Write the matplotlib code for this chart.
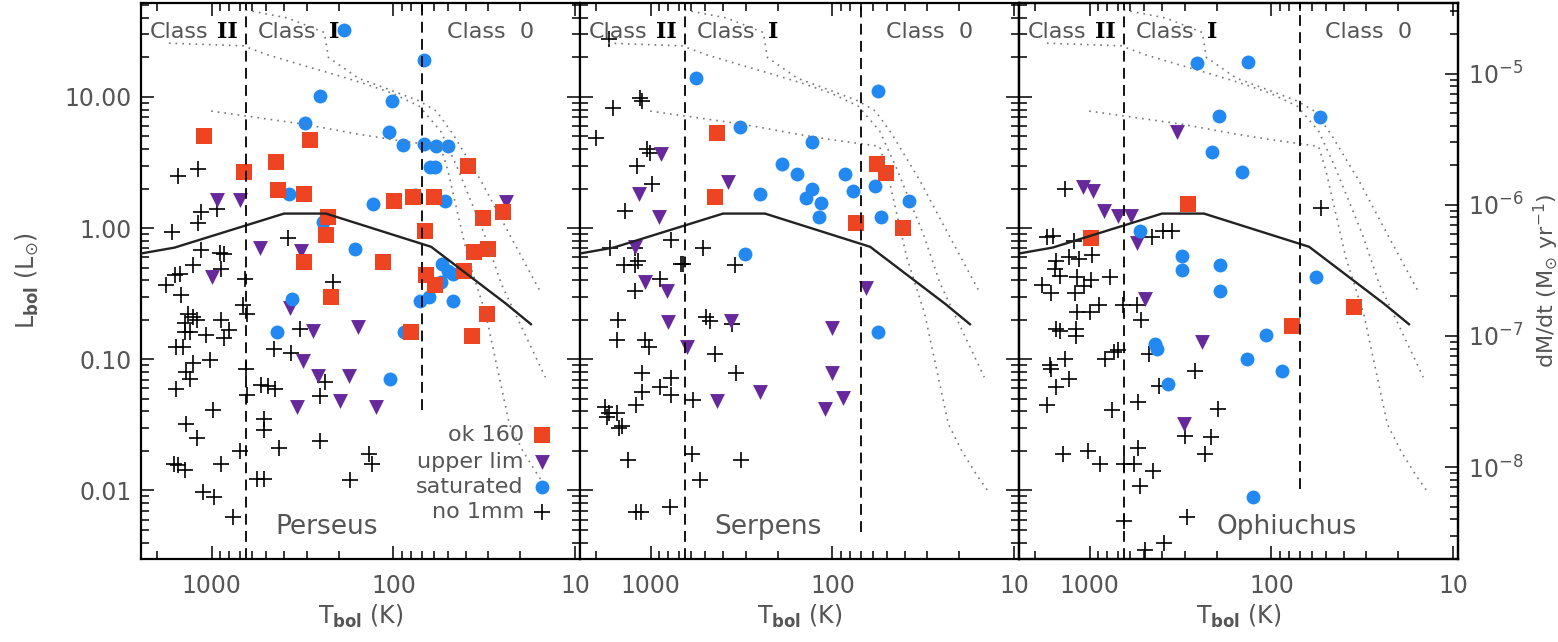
import numpy as np
import matplotlib.pyplot as plt
from matplotlib.ticker import FixedLocator, FuncFormatter, LogLocator, NullFormatter

# ---- data: (Tbol [K], Lbol [Lsun]) ----
perseus_ok = [(1100, 5.0), (287, 4.7), (665, 2.7), (440, 3.2), (39, 3.0), (434, 1.95),
              (312, 1.81), (99, 1.62), (78, 1.72), (60, 1.73), (32, 1.2), (25, 1.32),
              (228, 1.22), (67, 0.95), (236, 0.88), (114, 0.55), (311, 0.55), (66, 0.44),
              (59, 0.37), (36, 0.66), (30, 0.69), (41, 0.47), (220, 0.30), (30.5, 0.22),
              (80, 0.16), (37, 0.15)]
perseus_up = [(930, 1.63), (698, 1.63), (24, 1.57), (543, 0.71), (321, 0.67), (998, 0.42),
              (371, 0.245), (278, 0.163), (156, 0.175), (313, 0.097), (261, 0.074),
              (175, 0.075), (341, 0.043), (197, 0.048), (125, 0.043)]
perseus_sat = [(188, 32.5), (68, 19.2), (254, 10.1), (102, 9.3), (307, 6.3), (106, 5.4),
               (89, 4.3), (68, 4.4), (58, 4.2), (50, 4.2), (63, 2.9), (59, 2.9), (375, 1.81),
               (130, 1.53), (76, 1.8), (52, 1.6), (243, 1.12), (163, 0.69), (54, 0.53),
               (50, 0.47), (47, 0.45), (55, 0.39), (71, 0.28), (64, 0.30), (47, 0.28),
               (360, 0.29), (436, 0.16), (87, 0.16), (105, 0.071)]
perseus_no = [(1532, 2.5), (1190, 2.82), (1648, 0.93), (1150, 1.32), (1185, 1.1), (935, 1.39),
              (380, 0.84), (1150, 0.68), (904, 0.65), (851, 0.64), (1264, 0.52), (1500, 0.45),
              (1585, 0.44), (889, 0.49), (659, 0.41), (1781, 0.37), (215, 0.39), (1470, 0.31),
              (673, 0.26), (641, 0.22), (1349, 0.22), (1274, 0.21), (1211, 0.20), (1407, 0.19),
              (889, 0.20), (805, 0.166), (1309, 0.16), (1407, 0.16), (1074, 0.152),
              (859, 0.144), (327, 0.171), (1566, 0.123), (1439, 0.123), (452, 0.119),
              (367, 0.112), (1264, 0.093), (1378, 0.080), (1319, 0.071), (1020, 0.099),
              (1566, 0.059), (650, 0.084), (536, 0.064), (492, 0.062), (448, 0.059),
              (239, 0.067), (253, 0.052), (636, 0.053), (986, 0.041), (1390, 0.032),
              (514, 0.035), (516, 0.029), (1200, 0.025), (425, 0.021), (695, 0.020),
              (255, 0.024), (136, 0.019), (132, 0.016), (1615, 0.016), (1542, 0.0155),
              (1408, 0.0142), (891, 0.016), (565, 0.0123), (516, 0.0123), (173, 0.012),
              (1121, 0.0097), (977, 0.0089), (760, 0.0063)]

serpens_ok = [(431, 5.3), (440, 1.73), (57, 3.1), (51, 2.65), (74, 1.1), (41, 1.01)]
serpens_up = [(874, 3.7), (1159, 1.83), (374, 2.25), (897, 1.22), (1222, 0.72), (1074, 0.39),
              (813, 0.33), (65, 0.35), (801, 0.193), (362, 0.195), (101, 0.174), (631, 0.123),
              (100, 0.079), (250, 0.056), (430, 0.048), (87, 0.051), (110, 0.042)]
serpens_sat = [(560, 13.9), (56, 11.0), (323, 5.9), (130, 4.5), (189, 3.1), (156, 2.6),
               (85, 2.6), (58, 2.1), (129, 2.0), (77, 1.92), (250, 1.83), (140, 1.71),
               (116, 1.54), (38, 1.61), (119, 1.22), (54, 1.22), (303, 0.63), (56, 0.16)]
serpens_no = [(1706, 27.7), (1146, 9.8), (1122, 9.3), (1614, 8.2), (2000, 4.9), (1052, 4.0),
              (1007, 3.76), (1195, 2.97), (986, 2.16), (1378, 1.34), (1681, 0.71),
              (1222, 0.71), (778, 0.81), (513, 0.70), (1400, 0.52), (1222, 0.52), (1170, 0.56),
              (344, 0.52), (684, 0.53), (664, 0.53), (885, 0.41), (1222, 0.33), (1514, 0.20),
              (497, 0.21), (471, 0.195), (1531, 0.14), (1075, 0.14), (1021, 0.123),
              (359, 0.185), (444, 0.110), (341, 0.079), (1112, 0.078), (774, 0.072),
              (891, 0.061), (1112, 0.056), (774, 0.053), (588, 0.049), (1211, 0.045),
              (1778, 0.043), (1703, 0.039), (1531, 0.039), (1741, 0.036), (1500, 0.030),
              (1437, 0.031), (1331, 0.017), (591, 0.019), (319, 0.017), (538, 0.012),
              (1211, 0.0068), (1136, 0.0068), (784, 0.0075)]

ophiuchus_ok = [(288, 1.52), (979, 0.84), (35, 0.25), (77, 0.18)]
ophiuchus_up = [(331, 5.4), (1089, 2.06), (957, 1.92), (832, 1.36), (697, 1.24), (596, 1.24),
                (552, 0.77), (499, 0.29), (240, 0.135), (302, 0.032)]
ophiuchus_sat = [(258, 18.1), (134, 18.5), (194, 7.2), (54, 7.0), (211, 3.8), (146, 2.7),
                 (527, 0.95), (309, 0.61), (309, 0.48), (191, 0.52), (191, 0.33), (56.5, 0.42),
                 (437, 0.13), (428, 0.12), (372, 0.065), (137, 0.101), (107, 0.152),
                 (88, 0.082), (126, 0.0089)]
ophiuchus_no = [(1374, 2.0), (53.5, 1.42), (1710, 0.86), (1596, 0.875), (1219, 0.80),
                (454, 0.85), (395, 0.95), (351, 0.95), (1524, 0.565), (1294, 0.60),
                (1151, 0.58), (966, 0.62), (1560, 0.49), (1455, 0.43), (1180, 0.42),
                (979, 0.40), (777, 0.42), (1837, 0.37), (1634, 0.32), (1208, 0.32),
                (1074, 0.36), (1180, 0.23), (1002, 0.23), (892, 0.26), (659, 0.257),
                (547, 0.257), (523, 0.20), (1535, 0.17), (1466, 0.165), (1191, 0.17),
                (1191, 0.15), (1368, 0.101), (1644, 0.090), (1630, 0.085), (824, 0.10),
                (735, 0.114), (701, 0.117), (470, 0.110), (1294, 0.071), (263, 0.082),
                (1535, 0.061), (413, 0.062), (1722, 0.045), (752, 0.041), (545, 0.047),
                (198, 0.042), (299, 0.026), (215, 0.0255), (1400, 0.019), (1028, 0.020),
                (883, 0.016), (649, 0.016), (570, 0.016), (540, 0.021), (232, 0.019),
                (449, 0.014), (532, 0.0109), (292, 0.0063), (649, 0.0058), (497, 0.0035),
                (391, 0.004)]

# model curve and evolutionary tracks (same in every panel)
model_T = [2450, 1600, 400, 235, 62, 24, 17.5]
model_L = [0.64, 0.71, 1.29, 1.29, 0.72, 0.265, 0.185]
track_a_T = [650, 383, 240, 228, 156, 106, 72, 58, 47, 33, 22, 15.3]
track_a_L = [46, 40, 31, 20, 13.9, 11.4, 9.3, 7.8, 5.2, 2.3, 0.8, 0.315]
track_b_T = [1720, 670, 496, 323, 210, 149, 102, 72, 55, 45, 31.6, 25.5, 19.7, 14.6]
track_b_L = [25.7, 24.5, 21, 17.6, 14.8, 12.8, 10.7, 8.5, 5.5, 3.0, 0.9, 0.376, 0.176, 0.073]
track_c_T = [1007, 312, 156, 99, 70, 55, 50, 39, 31, 27, 23, 19.4, 16, 14]
track_c_L = [7.8, 6.2, 5.2, 4.7, 4.4, 4.2, 2.7, 0.6, 0.22, 0.09, 0.032, 0.02, 0.013, 0.01]

regions = ['Perseus', 'Serpens', 'Ophiuchus']
region_pos = [0.306, 0.305, 0.451]
class0_line_bottom = [0.041, 0.0048, 0.0102]
panel_data = [(perseus_ok, perseus_up, perseus_sat, perseus_no),
              (serpens_ok, serpens_up, serpens_sat, serpens_no),
              (ophiuchus_ok, ophiuchus_up, ophiuchus_sat, ophiuchus_no)]

legend_labels = ['ok 160', 'upper lim', 'saturated', 'no 1mm']

GRAY = '#555555'
RED = '#EE4422'
BLUE = '#2288F2'
PURPLE = '#66289A'
TMAX, TMIN = 2450, 9.4
LMIN, LMAX = 0.003, 52
T_II, T_0 = 650, 70
MDOT_PER_L = 6.64e-7

styles = [dict(marker='s', s=140, color=RED, linewidths=0),
          dict(marker='v', s=115, color=PURPLE, linewidths=0),
          dict(marker='o', s=100, color=BLUE, linewidths=0),
          dict(marker='+', s=125, color='black', linewidths=1.2)]

W, H = 1558, 642
fig = plt.figure(figsize=(W / 100, H / 100), dpi=100)
plt.rcParams['font.family'] = 'DejaVu Sans'
plt.rcParams['mathtext.default'] = 'regular'

pw, ph = 439 / W, 556 / H
bottom = (H - 559) / H
lefts = [141 / W, 580 / W, 1019 / W]


def style_axes(ax, labelleft, right=True):
    ax.set_xscale('log')
    ax.set_yscale('log')
    ax.set_xlim(TMAX, TMIN)
    ax.set_ylim(LMIN, LMAX)
    for s in ax.spines.values():
        s.set_linewidth(1.6)
    ax.xaxis.set_major_locator(FixedLocator([10, 100, 1000]))
    ax.xaxis.set_major_formatter(FuncFormatter(lambda v, p: '%d' % v))
    ax.xaxis.set_minor_locator(LogLocator(subs=np.arange(2, 10)))
    ax.xaxis.set_minor_formatter(NullFormatter())
    ax.yaxis.set_major_locator(FixedLocator([0.01, 0.1, 1, 10]))
    ax.yaxis.set_major_formatter(FuncFormatter(lambda v, p: '%.2f' % v))
    ax.yaxis.set_minor_locator(LogLocator(subs=np.arange(2, 10)))
    ax.yaxis.set_minor_formatter(NullFormatter())
    ax.tick_params(which='both', direction='in', top=True, right=right,
                   width=1.1, labelcolor=GRAY, labelsize=17, labelleft=labelleft)
    ax.tick_params(which='major', length=9.5)
    ax.tick_params(which='minor', length=5.5)
    ax.tick_params(axis='x', pad=11)
    ax.tick_params(axis='y', pad=7)


axes = []
for i, name in enumerate(regions):
    ax = fig.add_axes([lefts[i], bottom, pw, ph])
    style_axes(ax, labelleft=(i == 0), right=(i < 2))
    axes.append(ax)

    ok, up, sat, no = panel_data[i]
    for pts, st in zip((no, up, sat, ok), (styles[3], styles[1], styles[2], styles[0])):
        t, l = zip(*pts)
        ax.scatter(t, l, zorder=3, **st)

    # evolutionary tracks and model curve
    for tt, ll in ((track_a_T, track_a_L), (track_b_T, track_b_L), (track_c_T, track_c_L)):
        ax.plot(tt, ll, color='#777777', lw=1.2, ls=(0, (1, 3)), zorder=4)
    ax.plot(model_T, model_L, color='#222222', lw=1.7, zorder=4)

    # class boundaries
    ax.plot([T_II, T_II], [LMIN, LMAX], color='black', lw=1.3, dashes=(6, 3.5), zorder=4)
    ax.plot([T_0, T_0], [class0_line_bottom[i], LMAX], color='black', lw=1.3,
            dashes=(6, 3.5), zorder=4)

    ycl = 0.948
    ax.text(0.021, ycl, 'Class', transform=ax.transAxes, color=GRAY, fontsize=16, va='center')
    ax.text(0.1975, ycl, 'II', transform=ax.transAxes, color='black', fontsize=16,
            family='DejaVu Serif', weight='bold', ha='center', va='center')
    ax.text(0.267, ycl, 'Class', transform=ax.transAxes, color=GRAY, fontsize=16, va='center')
    ax.text(0.439, ycl, 'I', transform=ax.transAxes, color='black', fontsize=16,
            family='DejaVu Serif', weight='bold', ha='center', va='center')
    ax.text(0.697, ycl, 'Class  0', transform=ax.transAxes, color=GRAY, fontsize=16, va='center')

    ax.text(region_pos[i], 0.058, name, transform=ax.transAxes, color=GRAY, fontsize=19,
            va='center', ha='left')
    ax.text(0.5, -0.104, r'T$_{\mathbf{bol}}$ (K)', transform=ax.transAxes, color=GRAY,
            fontsize=17, ha='center', va='center')

    ax.set_xlim(TMAX, TMIN)
    ax.set_ylim(LMIN, LMAX)

# legend in the Perseus panel
ax = axes[0]
leg_y = [0.223, 0.174, 0.129, 0.085]
for lab, st, yy in zip(legend_labels, styles, leg_y):
    ax.text(0.872, yy, lab, transform=ax.transAxes, color=GRAY, fontsize=16,
            ha='right', va='center')
    ax.scatter([0.913], [yy], transform=ax.transAxes, zorder=5, clip_on=False, **st)
ax.set_xlim(TMAX, TMIN)
ax.set_ylim(LMIN, LMAX)

# accretion-rate axis on the right
axr = axes[2].twinx()
axr.set_yscale('log')
axr.set_ylim(LMIN * MDOT_PER_L, LMAX * MDOT_PER_L)
axr.yaxis.set_major_locator(FixedLocator([1e-8, 1e-7, 1e-6, 1e-5]))
axr.yaxis.set_major_formatter(FuncFormatter(lambda v, p: r'$10^{%d}$' % round(np.log10(v))))
axr.yaxis.set_minor_locator(LogLocator(subs=np.arange(2, 10)))
axr.yaxis.set_minor_formatter(NullFormatter())
axr.tick_params(which='both', direction='in', width=1.1, labelcolor=GRAY, labelsize=17, pad=7)
axr.tick_params(which='major', length=9.5)
axr.tick_params(which='minor', length=5.5)
for s in axr.spines.values():
    s.set_linewidth(1.6)

fig.text(27 / W, 1 - 281 / H, r'L$_{\mathbf{bol}}$ (L$_{\odot}$)', rotation=90, color=GRAY,
         fontsize=17, ha='center', va='center')
fig.text(1546 / W, 1 - 281 / H, r'dM/dt (M$_{\odot}$ yr$^{-1}$)', rotation=90, color=GRAY,
         fontsize=16, ha='center', va='center')

fig.savefig('out.png', dpi=100)
